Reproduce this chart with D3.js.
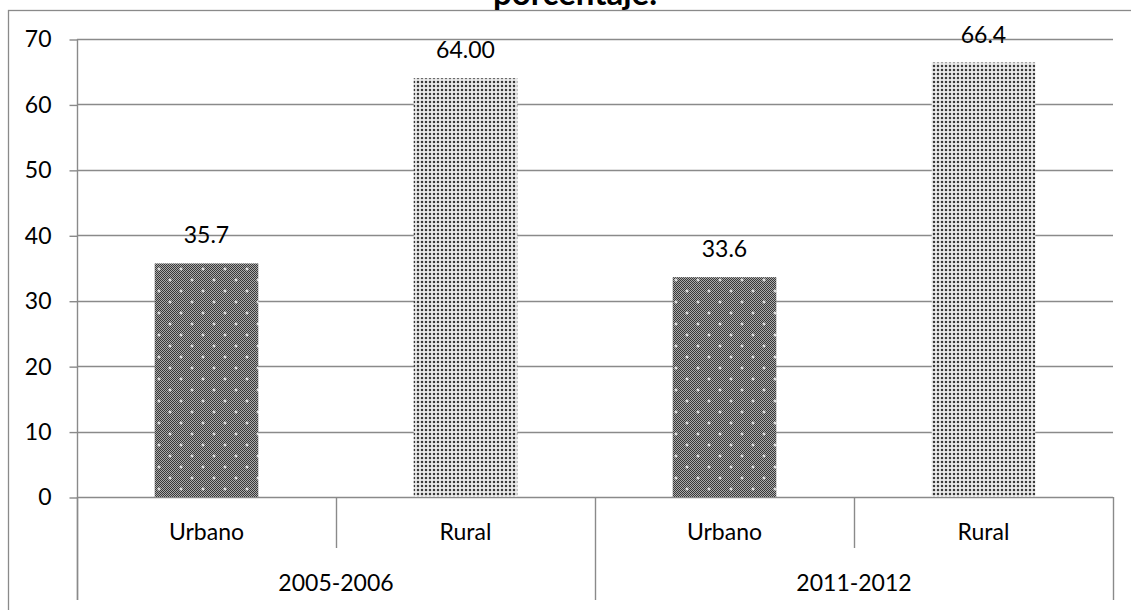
<!DOCTYPE html>
<html>
<head>
<meta charset="utf-8">
<script src="https://cdn.jsdelivr.net/npm/d3@7"></script>
<style>
  html, body { margin: 0; padding: 0; background: #fff; }
  svg { display: block; }
  text { font-family: Lato, "Open Sans", sans-serif; fill: #000; }
</style>
</head>
<body>
<svg id="chart" width="1131" height="610"></svg>
<script>
// ---- data ----
const categories = ["Urbano", "Rural", "Urbano", "Rural"];
const groups = ["2005-2006", "2011-2012"];
const values = [35.7, 64.00, 33.6, 66.4];
const valueLabels = ["35.7", "64.00", "33.6", "66.4"];
const yTicks = [0, 10, 20, 30, 40, 50, 60, 70];
const title = "porcentaje.";

// ---- layout ----
const W = 1131, H = 610;
const plotL = 77, plotR = 1113, plotT = 39, plotB = 497;
const FS = "23px";
const svg = d3.select("#chart");

// patterns
const defs = svg.append("defs");
const chk = defs.append("pattern").attr("id", "chk").attr("patternUnits", "userSpaceOnUse")
  .attr("width", 2).attr("height", 2);
chk.append("rect").attr("width", 2).attr("height", 2).attr("fill", "#aaaaaa");
chk.append("rect").attr("x", 0).attr("y", 0).attr("width", 1).attr("height", 1).attr("fill", "#383838");
chk.append("rect").attr("x", 1).attr("y", 1).attr("width", 1).attr("height", 1).attr("fill", "#383838");

const urb = defs.append("pattern").attr("id", "urb").attr("patternUnits", "userSpaceOnUse")
  .attr("width", 22).attr("height", 22);
urb.append("rect").attr("width", 22).attr("height", 22).attr("fill", "url(#chk)");
[[5, 5], [16, 16]].forEach(([cx, cy]) => {
  urb.append("rect").attr("x", cx - 1.5).attr("y", cy - 0.5).attr("width", 3).attr("height", 1).attr("fill", "#fff");
  urb.append("rect").attr("x", cx - 0.5).attr("y", cy - 1.5).attr("width", 1).attr("height", 3).attr("fill", "#fff");
});

const rur = defs.append("pattern").attr("id", "rur").attr("patternUnits", "userSpaceOnUse")
  .attr("width", 4).attr("height", 4);
rur.append("rect").attr("width", 4).attr("height", 4).attr("fill", "#fff");
rur.append("rect").attr("x", 0.5).attr("y", 0.5).attr("width", 3).attr("height", 3).attr("fill", "#b0b0b0");
rur.append("rect").attr("x", 1).attr("y", 1).attr("width", 2).attr("height", 2).attr("fill", "#3a3a3a");

// outer border
svg.append("rect").attr("x", 8.5).attr("y", 10.5).attr("width", W).attr("height", H)
  .attr("fill", "none").attr("stroke", "#8a8a8a").attr("stroke-width", 1.3);

// title (cut off at the top, as in the reference)
svg.append("text").attr("x", 575).attr("y", 5).attr("text-anchor", "middle")
  .style("font-weight", "bold").style("font-size", "33px").text(title);

// scales
const x = d3.scaleBand().domain(d3.range(categories.length)).range([plotL, plotR]).padding(0);
const y = d3.scaleLinear().domain([0, 70]).range([plotB, plotT]);

// gridlines
svg.append("g").selectAll("line").data(yTicks).join("line")
  .attr("x1", plotL).attr("x2", plotR)
  .attr("y1", d => Math.round(y(d)) + 0.5).attr("y2", d => Math.round(y(d)) + 0.5)
  .attr("stroke", "#8a8a8a").attr("stroke-width", 1.4);

// y axis
const yAxis = d3.axisLeft(y).tickValues(yTicks).tickSize(8).tickPadding(18).tickFormat(d3.format("d"));
const gy = svg.append("g").attr("transform", `translate(${plotL + 0.5},0.5)`).call(yAxis);
gy.select(".domain").remove();
gy.selectAll(".tick line").attr("stroke", "#8a8a8a").attr("stroke-width", 1.4);
gy.selectAll(".tick text").style("font-size", FS).style("font-family", "Lato, 'Open Sans', sans-serif").attr("fill", "#000");
svg.append("line").attr("x1", plotL + 0.5).attr("x2", plotL + 0.5).attr("y1", plotT).attr("y2", 600)
  .attr("stroke", "#8a8a8a").attr("stroke-width", 1.4);

// category dividers
const edges = d3.range(categories.length + 1).map(i => plotL + i * x.step());
svg.append("g").selectAll("line").data(edges).join("line")
  .attr("x1", d => Math.round(d) + 0.5).attr("x2", d => Math.round(d) + 0.5)
  .attr("y1", plotB).attr("y2", (d, i) => (i % 2 === 0 ? 600 : 548))
  .attr("stroke", "#8a8a8a").attr("stroke-width", 1.4);

// bars
const barW = x.bandwidth() * 0.4;
svg.append("g").selectAll("rect").data(values).join("rect")
  .attr("x", (d, i) => x(i) + (x.bandwidth() - barW) / 2)
  .attr("y", d => y(d))
  .attr("width", barW)
  .attr("height", d => y(0) - y(d))
  .attr("fill", (d, i) => categories[i] === "Urbano" ? "url(#urb)" : "url(#rur)");

// value labels
svg.append("g").selectAll("text").data(values).join("text")
  .attr("x", (d, i) => x(i) + x.bandwidth() / 2)
  .attr("y", d => y(d) - 20)
  .attr("text-anchor", "middle").style("font-size", FS)
  .text((d, i) => valueLabels[i]);

// category labels
svg.append("g").selectAll("text").data(categories).join("text")
  .attr("x", (d, i) => x(i) + x.bandwidth() / 2)
  .attr("y", 540).attr("text-anchor", "middle").style("font-size", FS)
  .text(d => d);

// group labels
svg.append("g").selectAll("text").data(groups).join("text")
  .attr("x", (d, i) => plotL + (i * 2 + 1) * x.step())
  .attr("y", 591).attr("text-anchor", "middle").style("font-size", FS)
  .text(d => d);
</script>
</body>
</html>
